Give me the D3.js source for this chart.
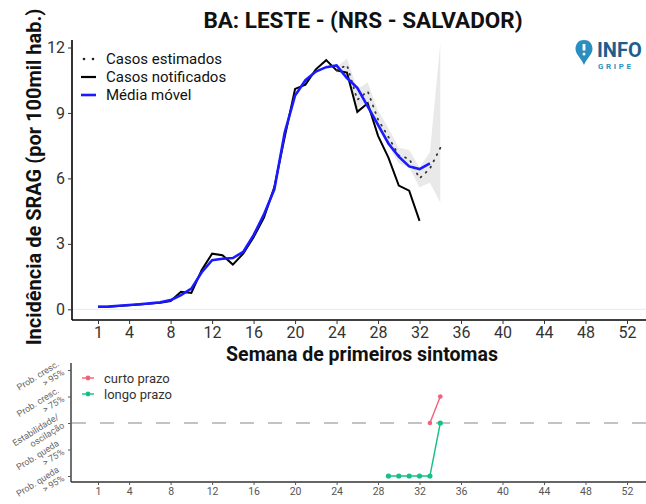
<!DOCTYPE html>
<html><head><meta charset="utf-8">
<script src="https://cdn.jsdelivr.net/npm/d3@7"></script>
<style>
html,body{margin:0;padding:0;background:#fff;}
svg{display:block;font-family:Roboto,"Noto Sans",sans-serif;}
</style></head>
<body>
<svg id="chart" width="646" height="504"></svg>
<script>
// ---------- data ----------
const weeks = d3.range(1, 33); // 1..32
const notificados = [0.12,0.12,0.15,0.19,0.22,0.26,0.30,0.38,0.80,0.75,1.80,2.55,2.48,2.05,2.55,3.30,4.20,5.60,7.90,10.10,10.30,11.00,11.42,10.95,10.85,9.05,9.45,7.95,6.95,5.67,5.44,4.05];
const mediaWeeks = d3.range(1, 34); // 1..33
const mediaMovel = [0.12,0.13,0.16,0.20,0.23,0.27,0.32,0.42,0.65,0.95,1.70,2.25,2.32,2.35,2.63,3.40,4.35,5.50,8.10,9.80,10.50,10.90,11.10,11.18,10.60,10.15,9.30,8.45,7.60,7.00,6.55,6.43,6.69];
const estWeeks = d3.range(24, 35); // 24..34
const estimados = [10.95,11.20,9.60,10.00,8.70,7.90,7.05,6.90,6.00,6.45,7.40];
const estLow  = [10.85,10.80,9.20,9.55,8.30,7.50,6.70,6.50,5.60,5.80,4.90];
const estHigh = [11.10,11.50,10.10,10.40,9.10,8.30,7.40,7.30,6.50,7.20,12.20];
const xTicks = [1,4,8,12,16,20,24,28,32,36,40,44,48,52];
const yTicks = [0,3,6,9,12];
const legendTop = ["Casos estimados","Casos notificados","Média móvel"];
// lower panel
const curtoWeeks = [33,34];
const curtoLevel = [0,1];
const longoWeeks = [29,30,31,32,33,34];
const longoLevel = [-2,-2,-2,-2,-2,0];
const levelTicks = [2,1,0,-1,-2];
const levelLabels = [["Prob. cresc.","> 95%"],["Prob. cresc.","> 75%"],["Estabilidade/","oscilação"],["Prob. queda","> 75%"],["Prob. queda","> 95%"]];
const legendBottom = ["curto prazo","longo prazo"];

// ---------- scales ----------
const svg = d3.select("#chart");
const x = d3.scaleLinear().domain([1,52]).range([98,627]);
const y = d3.scaleLinear().domain([0,12]).range([309.3,47.5]);
const yl = d3.scaleLinear().domain([-2,2]).range([476,370]);
const colRed = "#f2607a", colGreen = "#14c184";

// faint zero line
svg.append("line").attr("x1",72).attr("x2",646).attr("y1",y(0)).attr("y2",y(0))
  .attr("stroke","#e8e8e8").attr("stroke-width",1);

// title
svg.append("text").attr("x",363).attr("y",28).attr("text-anchor","middle")
  .attr("font-size",22.5).attr("font-weight","bold").attr("fill","#111")
  .text("BA: LESTE - (NRS - SALVADOR)");

// logo
const logo = svg.append("g").attr("transform","translate(584,50)");
logo.append("path").attr("d","M0,-10 C-6.5,-10 -8.5,-5 -8.5,-1 C-8.5,4 -3,8 0,15 C3,8 8.5,4 8.5,-1 C8.5,-5 6.5,-10 0,-10 Z").attr("fill","#2a8fc0");
logo.append("rect").attr("x",-1.4).attr("y",-6).attr("width",2.8).attr("height",6.5).attr("fill","#fff");
logo.append("circle").attr("cx",0).attr("cy",4).attr("r",1.5).attr("fill","#fff");
svg.append("text").attr("x",597).attr("y",57).attr("font-size",20).attr("font-weight","bold").attr("fill","#1d5d8f").text("INFO");
svg.append("text").attr("x",598).attr("y",69).attr("font-size",8).attr("font-weight","bold").attr("letter-spacing",2.6).attr("fill","#2a8fc0").text("GRIPE");

// ribbon
const ribData = estWeeks.map((w,i)=>({w,lo:estLow[i],hi:estHigh[i]}));
svg.append("path").datum(ribData)
  .attr("d", d3.area().x(d=>x(d.w)).y0(d=>y(d.lo)).y1(d=>y(d.hi)))
  .attr("fill","#c8c8c8").attr("opacity",0.4);

// lines
const line = d3.line().x(d=>x(d[0])).y(d=>y(d[1]));
svg.append("path").datum(weeks.map((w,i)=>[w,notificados[i]]))
  .attr("d",line).attr("fill","none").attr("stroke","#000").attr("stroke-width",2);
svg.append("path").datum(estWeeks.map((w,i)=>[w,estimados[i]]))
  .attr("d",line).attr("fill","none").attr("stroke","#333").attr("stroke-width",1.8)
  .attr("stroke-dasharray","1,6").attr("stroke-linecap","round");
svg.append("path").datum(mediaWeeks.map((w,i)=>[w,mediaMovel[i]]))
  .attr("d",line).attr("fill","none").attr("stroke","#1a1aff").attr("stroke-width",2.6);

// axes upper
const gx = svg.append("g").attr("transform","translate(0,320)")
  .call(d3.axisBottom(x).tickValues(xTicks).tickSize(4).tickPadding(3));
gx.select(".domain").attr("d","M72,0H646").attr("stroke","#000").attr("stroke-width",1.6);
gx.selectAll(".tick line").attr("stroke","#333");
gx.selectAll(".tick text").attr("font-size",16).attr("fill","#333").attr("font-family","Roboto");
const gy = svg.append("g").attr("transform","translate(72,0)")
  .call(d3.axisLeft(y).tickValues(yTicks).tickSize(4).tickPadding(3));
gy.select(".domain").attr("d","M0,40V320").attr("stroke","#000").attr("stroke-width",1.6);
gy.selectAll(".tick line").attr("stroke","#333");
gy.selectAll(".tick text").attr("font-size",16).attr("fill","#333").attr("font-family","Roboto");

// axis titles
svg.append("text").attr("x",362).attr("y",361).attr("text-anchor","middle")
  .attr("font-size",19.5).attr("font-weight","bold").attr("fill","#111").text("Semana de primeiros sintomas");
svg.append("text").attr("transform","translate(41,177) rotate(-90)").attr("text-anchor","middle")
  .attr("font-size",20).attr("font-weight","bold").attr("fill","#111").text("Incidência de SRAG (por 100mil hab.)");

// upper legend
const lg = svg.append("g");
const legY = [59, 77, 95];
legendTop.forEach((t,i)=>{
  lg.append("text").attr("x",106).attr("y",legY[i]+5).attr("font-size",15).attr("fill","#111").text(t);
});
lg.append("circle").attr("cx",84).attr("cy",legY[0]).attr("r",1.3).attr("fill","#222");
lg.append("circle").attr("cx",93).attr("cy",legY[0]).attr("r",1.3).attr("fill","#222");
lg.append("line").attr("x1",81).attr("x2",96).attr("y1",legY[1]).attr("y2",legY[1]).attr("stroke","#000").attr("stroke-width",2.2);
lg.append("line").attr("x1",81).attr("x2",96).attr("y1",legY[2]).attr("y2",legY[2]).attr("stroke","#1a1aff").attr("stroke-width",2.6);

// ---------- lower panel ----------
svg.append("line").attr("x1",72).attr("x2",646).attr("y1",yl(0)).attr("y2",yl(0))
  .attr("stroke","#888").attr("stroke-width",1.2).attr("stroke-dasharray","14,14");
const lline = d3.line().x(d=>x(d[0])).y(d=>yl(d[1]));
const lgData = longoWeeks.map((w,i)=>[w,longoLevel[i]]);
const crData = curtoWeeks.map((w,i)=>[w,curtoLevel[i]]);
svg.append("path").datum(crData).attr("d",lline).attr("fill","none").attr("stroke",colRed).attr("stroke-width",1.4);
svg.selectAll(".crpt").data(crData).join("circle").attr("cx",d=>x(d[0])).attr("cy",d=>yl(d[1])).attr("r",2.3).attr("fill",colRed);
svg.append("path").datum(lgData).attr("d",lline).attr("fill","none").attr("stroke",colGreen).attr("stroke-width",1.4);
svg.selectAll(".lgpt").data(lgData).join("circle").attr("cx",d=>x(d[0])).attr("cy",d=>yl(d[1])).attr("r",2.6).attr("fill",colGreen);

const gx2 = svg.append("g").attr("transform","translate(0,482)")
  .call(d3.axisBottom(x).tickValues(xTicks).tickSize(3).tickPadding(3));
gx2.select(".domain").attr("d","M71,0H646").attr("stroke","#333").attr("stroke-width",1.6);
gx2.selectAll(".tick line").attr("stroke","#555");
gx2.selectAll(".tick text").attr("font-size",10.5).attr("fill","#555").attr("font-family","Roboto");
const gy2 = svg.append("g").attr("transform","translate(71,0)")
  .call(d3.axisLeft(yl).tickValues(levelTicks).tickSize(3).tickFormat(""));
gy2.select(".domain").attr("d","M0,363V482").attr("stroke","#333").attr("stroke-width",1.4);
gy2.selectAll(".tick line").attr("stroke","#555");
levelTicks.forEach((lv,i)=>{
  const g = svg.append("g").attr("transform",`translate(65,${yl(lv)+4}) rotate(-32)`);
  g.append("text").attr("x",0).attr("y",-10).attr("text-anchor","end").attr("font-size",9).attr("fill","#666").text(levelLabels[i][0]);
  g.append("text").attr("x",0).attr("y",0).attr("text-anchor","end").attr("font-size",9).attr("fill","#666").text(levelLabels[i][1]);
});

// lower legend
[colRed,colGreen].forEach((c,i)=>{
  const yy = 378 + i*16;
  svg.append("line").attr("x1",82).attr("x2",94).attr("y1",yy).attr("y2",yy).attr("stroke",c).attr("stroke-width",1.4);
  svg.append("circle").attr("cx",88).attr("cy",yy).attr("r",2.4).attr("fill",c);
  svg.append("text").attr("x",104).attr("y",yy+4.5).attr("font-size",13).attr("fill","#333").text(legendBottom[i]);
});
</script>
</body></html>
